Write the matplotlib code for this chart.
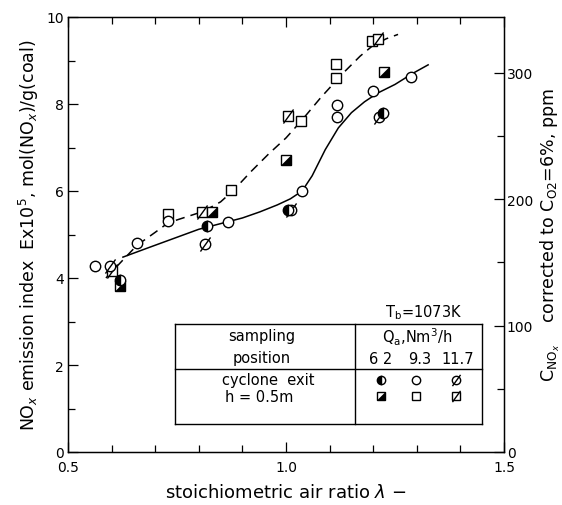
import matplotlib
matplotlib.use("Agg")
import matplotlib.pyplot as plt
from matplotlib.path import Path
from matplotlib.ticker import MultipleLocator

plt.rcParams['font.family'] = ['DejaVu Sans']
plt.rcParams['mathtext.fontset'] = 'dejavusans'

# ---------------- data ----------------
# cyclone exit, Qa = 6.2 (half-filled circle)
ce62_x = [0.619, 0.819, 1.005, 1.222]
ce62_y = [3.95, 5.20, 5.56, 7.79]
# cyclone exit, Qa = 9.3 (open circle)
ce93_x = [0.562, 0.658, 0.729, 0.867, 1.037, 1.117, 1.117, 1.200, 1.287]
ce93_y = [4.28, 4.80, 5.31, 5.29, 6.00, 7.98, 7.70, 8.30, 8.62]
# cyclone exit, Qa = 11.7 (slashed circle)
ce117_x = [0.596, 0.814, 1.011, 1.213]
ce117_y = [4.28, 4.78, 5.56, 7.70]
# h = 0.5 m, Qa = 6.2 (half-filled square)
h62_x = [0.619, 0.830, 1.000, 1.225]
h62_y = [3.82, 5.52, 6.71, 8.74]
# h = 0.5 m, Qa = 9.3 (open square)
h93_x = [0.729, 0.874, 1.034, 1.115, 1.115, 1.197]
h93_y = [5.47, 6.02, 7.61, 8.60, 8.92, 9.45]
# h = 0.5 m, Qa = 11.7 (slashed square)
h117_x = [0.601, 0.807, 1.005, 1.211]
h117_y = [4.16, 5.52, 7.72, 9.49]

# hand-drawn trend curves
dash_x = [0.587, 0.62, 0.658, 0.70, 0.73, 0.77, 0.81, 0.85, 0.88, 0.92, 0.96,
          1.00, 1.034, 1.08, 1.13, 1.17, 1.20, 1.23, 1.257]
dash_y = [4.00, 4.35, 4.75, 5.05, 5.27, 5.40, 5.53, 5.75, 6.02, 6.45, 6.85,
          7.22, 7.60, 8.15, 8.70, 9.10, 9.35, 9.50, 9.60]
solid_x = [0.626, 0.68, 0.74, 0.80, 0.85, 0.90, 0.94, 0.98, 1.01, 1.037, 1.06,
           1.09, 1.12, 1.15, 1.18, 1.21, 1.25, 1.29, 1.326]
solid_y = [4.48, 4.68, 4.90, 5.12, 5.25, 5.38, 5.52, 5.68, 5.82, 6.00, 6.35,
           6.95, 7.45, 7.80, 8.05, 8.25, 8.45, 8.70, 8.90]

x_ticks = [0.5, 1.0, 1.5]
x_ticklabels = ['0.5', '1.0', '1.5']
y_ticks = [0, 2, 4, 6, 8, 10]
ppm_ticks = [0, 100, 200, 300]
ppm_max = 344.0

# ---------------- figure ----------------
W, H = 562, 506
fig = plt.figure(figsize=(W / 100, H / 100), dpi=100)
ax = fig.add_axes([68 / W, 1 - 453 / H, (504 - 68) / W, (453 - 18) / H])
ax.set_xlim(0.5, 1.5)
ax.set_ylim(0, 10)

def fx(px):
    return px / W

def fy(py):
    return 1 - py / H

SLASH = Path([(-0.72, -1.0), (0.72, 1.0)], [Path.MOVETO, Path.LINETO])
TRI = Path([(-1, -1), (1, -1), (1, 1), (-1, -1)],
           [Path.MOVETO, Path.LINETO, Path.LINETO, Path.CLOSEPOLY])

def draw(xs, ys, kind, ms=7.5, transform=None, z=5):
    kw = dict(linestyle='none', clip_on=False, zorder=z)
    if transform is not None:
        kw['transform'] = transform
    base = 'o' if kind.startswith('c') else 's'
    if kind == 'c_half':
        ax.plot(xs, ys, marker='o', ms=ms, mec='black', mfc='black',
                markerfacecoloralt='white', fillstyle='left', mew=1.0, **kw)
        return
    ax.plot(xs, ys, marker=base, ms=ms, mec='black', mfc='white', mew=1.0, **kw)
    if kind.endswith('slash'):
        ax.plot(xs, ys, marker=SLASH, ms=ms * 1.35, mec='black', mew=1.0, **kw)
    if kind == 's_half':
        ax.plot(xs, ys, marker=TRI, ms=ms, mec='black', mfc='black', mew=0.5, **kw)

# curves
ax.plot(dash_x, dash_y, color='black', lw=1.1, linestyle=(0, (6, 4)), zorder=2)
ax.plot(solid_x, solid_y, color='black', lw=1.1, zorder=2)

# data points
draw(h93_x, h93_y, 's_open')
draw(h117_x, h117_y, 's_slash')
draw(h62_x, h62_y, 's_half')
draw(ce93_x, ce93_y, 'c_open')
draw(ce117_x, ce117_y, 'c_slash')
draw(ce62_x, ce62_y, 'c_half')

# axes styling
for sp in ax.spines.values():
    sp.set_linewidth(1.0)
ax.set_xticks(x_ticks)
ax.set_xticklabels(x_ticklabels)
ax.xaxis.set_minor_locator(MultipleLocator(0.1))
ax.set_yticks(y_ticks)
ax.yaxis.set_minor_locator(MultipleLocator(1))
ax.tick_params(which='both', direction='in', top=True, right=False,
               labelsize=10, width=0.9)
ax.tick_params(which='major', length=7)
ax.tick_params(which='minor', length=5)
ax.tick_params(axis='x', pad=6)
ax.tick_params(axis='y', pad=3)

ax2 = ax.twinx()
ax2.set_ylim(0, ppm_max)
ax2.set_yticks(ppm_ticks)
ax2.yaxis.set_minor_locator(MultipleLocator(50))
ax2.tick_params(which='both', direction='in', labelsize=10, width=0.9, pad=2)
ax2.tick_params(which='major', length=7)
ax2.tick_params(which='minor', length=5)

ax.set_xlabel(r'stoichiometric air ratio $\lambda$ $-$', fontsize=13, labelpad=6)
ax.set_ylabel(r'NO$_x$ emission index  Ex10$^5$, mol(NO$_x$)/g(coal)',
              fontsize=12.5, labelpad=4)
ax2.set_ylabel(r'C$_{\mathrm{NO}_x}$    corrected to C$_{\mathrm{O2}}$=6%, ppm',
               fontsize=12.5, labelpad=4)

# ---------------- legend table ----------------
lw = 1.0
def hline(x0, x1, y):
    fig.add_artist(plt.Line2D([fx(x0), fx(x1)], [fy(y), fy(y)], color='black', lw=lw))

def vline(x, y0, y1):
    fig.add_artist(plt.Line2D([fx(x), fx(x)], [fy(y0), fy(y1)], color='black', lw=lw))

L, R, T, B = 175, 482, 325, 425
hline(L, R, T); hline(L, R, B); vline(L, T, B); vline(R, T, B)
hline(L, R, 370)
vline(355, T, B)

tk = dict(transform=fig.transFigure, fontsize=10.5, va='center')
fig.text(fx(462), fy(313), r'T$_\mathrm{b}$=1073K', ha='right', **tk)
fig.text(fx(262), fy(337), 'sampling', ha='center', **tk)
fig.text(fx(262), fy(359), 'position', ha='center', **tk)
fig.text(fx(417), fy(337), r'Q$_\mathrm{a}$,Nm$^3$/h', ha='center', **tk)
fig.text(fx(381), fy(359), '6 2', ha='center', **tk)
fig.text(fx(420), fy(359), '9.3', ha='center', **tk)
fig.text(fx(458), fy(359), '11.7', ha='center', **tk)
fig.text(fx(268), fy(381), 'cyclone  exit', ha='center', **tk)
fig.text(fx(225), fy(397), 'h = 0.5m', ha='left', **tk)

tr = fig.transFigure
draw([fx(381)], [fy(381)], 'c_half', ms=6, transform=tr, z=10)
draw([fx(416)], [fy(381)], 'c_open', ms=6, transform=tr, z=10)
draw([fx(456)], [fy(381)], 'c_slash', ms=6, transform=tr, z=10)
draw([fx(381)], [fy(397)], 's_half', ms=6, transform=tr, z=10)
draw([fx(416)], [fy(397)], 's_open', ms=6, transform=tr, z=10)
draw([fx(456)], [fy(397)], 's_slash', ms=6, transform=tr, z=10)

fig.savefig('out.png', dpi=100)
